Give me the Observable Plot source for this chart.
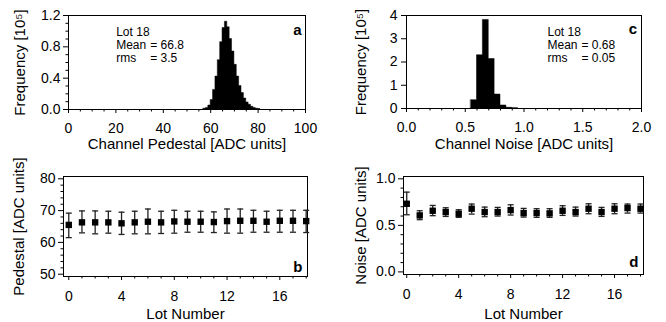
<!DOCTYPE html>
<html>
<head>
<meta charset="utf-8">
<script src="https://cdn.jsdelivr.net/npm/d3@7"></script>
<script src="https://cdn.jsdelivr.net/npm/@observablehq/plot@0.6"></script>
<style>
  html, body { margin: 0; padding: 0; background: white; }
  #wrap { position: relative; width: 666px; height: 322px; overflow: hidden; background: white; }
  .panel { position: absolute; width: 333px; height: 161px; }
</style>
</head>
<body>
<div id="wrap">
  <div class="panel" id="pa" style="left:0;top:0"></div>
  <div class="panel" id="pc" style="left:333px;top:0"></div>
  <div class="panel" id="pb" style="left:0;top:161px"></div>
  <div class="panel" id="pd" style="left:333px;top:161px"></div>
</div>
<script>
// ---------- Data ----------
// Panel a: channel pedestal histogram (bin start, ADC units; frequency in 10^5)
const pedBinStart = [57,58,59,60,61,62,63,64,65,66,67,68,69,70,71,72,73,74,75,76,77,78,79,80];
const pedFreq     = [0.01,0.02,0.05,0.12,0.25,0.42,0.63,0.86,1.04,1.12,1.05,0.90,0.74,0.57,0.42,0.30,0.21,0.14,0.09,0.06,0.035,0.02,0.01,0.005];
const pedBinWidth = 1;

// Panel c: channel noise histogram
const noiseBinStart = [0.55,0.60,0.65,0.70,0.75,0.80,0.85,0.90];
const noiseFreq     = [0.36,2.29,3.81,2.13,0.60,0.13,0.03,0.01];
const noiseBinWidth = 0.05;

// Annotation stats
const statLabels = ["Lot 18", "Mean", "rms"];
const pedStats   = [66.8, 3.5];
const noiseStats = [0.68, 0.05];

// Panel b: pedestal per lot
const lots     = [0,1,2,3,4,5,6,7,8,9,10,11,12,13,14,15,16,17,18];
const pedMean  = [65.5,66.3,66.3,66.3,66.0,66.3,66.5,66.3,66.6,66.5,66.5,66.4,66.7,66.8,66.8,66.5,66.8,66.8,66.7];
const pedHi    = [69.2,69.9,69.9,69.8,69.5,69.8,70.5,69.8,70.1,69.8,69.8,69.6,70.5,70.5,70.1,69.8,70.1,70.1,70.1];
const pedLo    = [61.5,63.0,62.7,62.9,62.5,62.7,62.7,62.8,62.9,63.2,63.2,63.1,62.9,62.9,63.2,63.2,63.2,63.2,63.1];

// Panel d: noise per lot
const noiseMean = [0.732,0.607,0.657,0.643,0.625,0.679,0.643,0.643,0.664,0.632,0.632,0.629,0.657,0.643,0.679,0.643,0.679,0.686,0.679];
const noiseHi   = [0.857,0.657,0.714,0.689,0.668,0.729,0.696,0.693,0.721,0.682,0.679,0.679,0.711,0.696,0.732,0.693,0.732,0.729,0.729];
const noiseLo   = [0.614,0.561,0.604,0.596,0.586,0.621,0.593,0.600,0.611,0.589,0.586,0.586,0.607,0.600,0.625,0.596,0.625,0.632,0.632];

// Tick values
const pedXTicks = [0,20,40,60,80,100];
const pedXMinor = d3.range(0,101,5).filter(v => v % 20 !== 0);
const pedYTicks = [0,0.4,0.8,1.2];
const pedYMinor = [0.1,0.2,0.3,0.5,0.6,0.7,0.9,1.0,1.1];
const noiseXTicks = [0,0.5,1.0,1.5,2.0];
const noiseXMinor = [0.1,0.2,0.3,0.4,0.6,0.7,0.8,0.9,1.1,1.2,1.3,1.4,1.6,1.7,1.8,1.9];
const noiseYTicks = [0,1,2,3,4];
const lotTicks = [0,4,8,12,16];
const lotMinor = lots.filter(v => v % 4 !== 0);
const pedLotYTicks = [50,60,70,80];
const pedLotYMinor = [52,54,56,58,62,64,66,68,72,74,76,78];
const noiseLotYTicks = [0,0.5,1.0];
const noiseLotYMinor = [0.1,0.2,0.3,0.4,0.6,0.7,0.8,0.9];

// ---------- Helpers ----------
const FONT = "'Liberation Sans', Arial, Helvetica, sans-serif";
const f1 = d3.format(".1f");
const capSymbol = {
  draw(ctx, size) {
    const r = Math.sqrt(size / Math.PI);
    ctx.moveTo(-r, 0); ctx.lineTo(r, 0);
  }
};
const baseStyle = {fontFamily: FONT, fontSize: "14px", color: "black", background: "transparent", overflow: "visible"};

function axes(o) {
  return [
    Plot.axisX(o.xt, {tickSize: 4, tickPadding: o.xpad, tickFormat: o.xf, fontSize: 14, label: null}),
    Plot.axisX(o.xm, {tickSize: 2.5, tickFormat: () => "", label: null}),
    Plot.axisY(o.yt, {tickSize: 5, tickPadding: o.ypad, tickFormat: o.yf, fontSize: 14, label: null}),
    ...(o.ym ? [Plot.axisY(o.ym, {tickSize: 2.5, tickFormat: () => "", label: null})] : []),
    Plot.text([o.xlabel], {frameAnchor: "bottom", textAnchor: "middle", lineAnchor: "top", dy: o.xdy, fontSize: 15}),
    Plot.text([o.ylabel], {frameAnchor: "left", textAnchor: "middle", lineAnchor: "top", rotate: -90, dx: o.ydx, fontSize: 15}),
    Plot.frame({stroke: "black", strokeWidth: 1})
  ];
}

function stats(vals, dx) {
  return [
    Plot.text([statLabels.join("\n")], {frameAnchor: "top-left", textAnchor: "start", lineAnchor: "top", lineHeight: 1.08, dx: dx, dy: 11.5, fontSize: 12}),
    Plot.text(["= " + vals[0] + "\n= " + vals[1]], {frameAnchor: "top-left", textAnchor: "start", lineAnchor: "top", lineHeight: 1.08, dx: dx + 34, dy: 11.5 + 13, fontSize: 12})
  ];
}

// Histogram drawn as one step-shaped area (no seams between bins)
function histMark(starts, freqs, width) {
  const pts = starts.map((x, i) => ({x, y: freqs[i]}));
  pts.push({x: starts[starts.length - 1] + width, y: 0});
  return Plot.areaY(pts, {x: "x", y: "y", curve: "step-after", fill: "black", stroke: "black", strokeWidth: 0.5});
}

// ---------- Panel a ----------
document.getElementById("pa").append(Plot.plot({
  width: 333, height: 161,
  marginLeft: 68, marginRight: 28, marginTop: 15, marginBottom: 52,
  style: baseStyle,
  x: {domain: [0, 100]},
  y: {domain: [0, 1.2]},
  marks: [
    histMark(pedBinStart, pedFreq, pedBinWidth),
    ...axes({xt: pedXTicks, xm: pedXMinor, xpad: 10, xf: d => d, yt: pedYTicks, ym: pedYMinor, ypad: 3, yf: f1,
             xlabel: "Channel Pedestal [ADC units]", xdy: 29.3, ylabel: "Frequency [10⁵]", ydx: -54}),
    ...stats(pedStats, 47.7),
    Plot.text(["a"], {frameAnchor: "top-right", textAnchor: "end", lineAnchor: "middle", dx: -4, dy: 14.3, fontSize: 15, fontWeight: "bold"})
  ]
}));

// ---------- Panel c ----------
document.getElementById("pc").append(Plot.plot({
  width: 333, height: 161,
  marginLeft: 73, marginRight: 25, marginTop: 15, marginBottom: 53,
  style: baseStyle,
  x: {domain: [0, 2]},
  y: {domain: [0, 4]},
  marks: [
    histMark(noiseBinStart, noiseFreq, noiseBinWidth),
    ...axes({xt: noiseXTicks, xm: noiseXMinor, xpad: 10, xf: f1, yt: noiseYTicks, ym: null, ypad: 4, yf: d => d,
             xlabel: "Channel Noise [ADC units]", xdy: 30, ylabel: "Frequency [10⁵]", ydx: -51.6}),
    ...stats(noiseStats, 141),
    Plot.text(["c"], {frameAnchor: "top-right", textAnchor: "end", lineAnchor: "middle", dx: -4.3, dy: 14, fontSize: 15, fontWeight: "bold"})
  ]
}));

// ---------- Panel b ----------
const pedLots = lots.map((l, i) => ({lot: l, m: pedMean[i], lo: pedLo[i], hi: pedHi[i]}));
document.getElementById("pb").append(Plot.plot({
  width: 333, height: 161,
  marginLeft: 63, marginRight: 26, marginTop: 15, marginBottom: 46,
  style: baseStyle,
  x: {domain: [-0.4, 18.1]},
  y: {domain: [49.28, 80.72]},
  marks: [
    ...axes({xt: lotTicks, xm: lotMinor, xpad: 11, xf: d => d, yt: pedLotYTicks, ym: pedLotYMinor, ypad: 3, yf: d => d,
             xlabel: "Lot Number", xdy: 31.7, ylabel: "Pedestal [ADC units]", ydx: -50}),
    Plot.ruleX(pedLots, {x: "lot", y1: "lo", y2: "hi", stroke: "#222", strokeWidth: 1.3}),
    Plot.dot(pedLots, {x: "lot", y: "hi", symbol: capSymbol, r: 3, stroke: "#222", strokeWidth: 1.3, fill: "none"}),
    Plot.dot(pedLots, {x: "lot", y: "lo", symbol: capSymbol, r: 3, stroke: "#222", strokeWidth: 1.3, fill: "none"}),
    Plot.dot(pedLots, {x: "lot", y: "m", symbol: "square", r: 3.6, fill: "black", stroke: "none"}),
    Plot.text(["b"], {frameAnchor: "bottom-right", textAnchor: "end", lineAnchor: "middle", dx: -5, dy: -9.7, fontSize: 15, fontWeight: "bold"})
  ]
}));

// ---------- Panel d ----------
const noiseLots = lots.map((l, i) => ({lot: l, m: noiseMean[i], lo: noiseLo[i], hi: noiseHi[i]}));
document.getElementById("pd").append(Plot.plot({
  width: 333, height: 161,
  marginLeft: 70, marginRight: 23, marginTop: 15, marginBottom: 48,
  style: baseStyle,
  x: {domain: [-0.25, 18.23]},
  y: {domain: [-0.028, 1.025]},
  marks: [
    ...axes({xt: lotTicks, xm: lotMinor, xpad: 11, xf: d => d, yt: noiseLotYTicks, ym: noiseLotYMinor, ypad: 3, yf: f1,
             xlabel: "Lot Number", xdy: 33.4, ylabel: "Noise [ADC units]", ydx: -48.3}),
    Plot.ruleX(noiseLots, {x: "lot", y1: "lo", y2: "hi", stroke: "#222", strokeWidth: 1.3}),
    Plot.dot(noiseLots, {x: "lot", y: "hi", symbol: capSymbol, r: 3, stroke: "#222", strokeWidth: 1.3, fill: "none"}),
    Plot.dot(noiseLots, {x: "lot", y: "lo", symbol: capSymbol, r: 3, stroke: "#222", strokeWidth: 1.3, fill: "none"}),
    Plot.dot(noiseLots, {x: "lot", y: "m", symbol: "square", r: 3.6, fill: "black", stroke: "none"}),
    Plot.text(["d"], {frameAnchor: "bottom-right", textAnchor: "end", lineAnchor: "middle", dx: -5, dy: -12.6, fontSize: 15, fontWeight: "bold"})
  ]
}));
</script>
</body>
</html>
